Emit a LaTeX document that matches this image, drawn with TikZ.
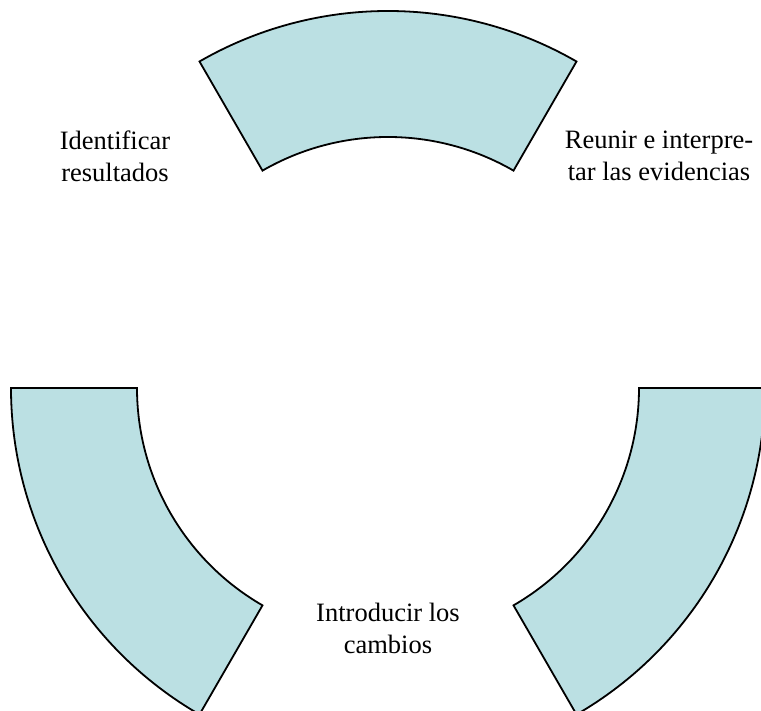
\documentclass[tikz,border=0pt]{standalone}
\usepackage{fontspec}
\setmainfont{Liberation Serif}
\usetikzlibrary{calc}
\definecolor{sectorfill}{HTML}{BBE0E3}
\begin{document}
\begin{tikzpicture}[x=1pt,y=1pt,
  sector/.style={draw=black,line width=1.8pt,fill=sectorfill,line join=miter},
  label/.style={align=center,font=\fontsize{26.5}{32}\selectfont,inner sep=0pt}]
\useasboundingbox (0,0) rectangle (761,711);
\clip (0,0) rectangle (761,711);
\coordinate (c) at (388,323);
\def\Ro{377}
\def\Ri{251}
\foreach \a/\b in {60/120,180/240,300/360}{
  \draw[sector] ($(c)+(\a:\Ro)$) arc[start angle=\a,end angle=\b,radius=\Ro]
    -- ($(c)+(\b:\Ri)$) arc[start angle=\b,end angle=\a,radius=\Ri] -- cycle;
}
\node[label] (t1) at (115,555) {Identificar\\resultados};
\node[label] (t2) at (659,555) {Reunir e interpre-\\tar las evidencias};
\node[label] (t3) at (388,83) {Introducir los\\cambios};
\end{tikzpicture}
\end{document}
